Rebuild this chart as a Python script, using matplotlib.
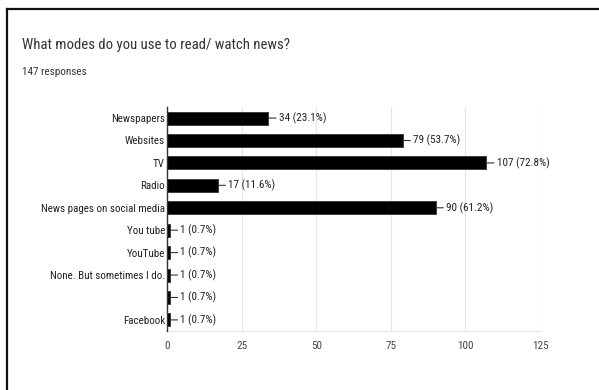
import matplotlib
matplotlib.use("Agg")
import matplotlib.pyplot as plt
from matplotlib.lines import Line2D

categories = ["Newspapers", "Websites", "TV", "Radio", "News pages on social media",
              "You tube", "YouTube", "None. But sometimes I do.", "", "Facebook"]
counts = [34, 79, 107, 17, 90, 1, 1, 1, 1, 1]
percents = [23.1, 53.7, 72.8, 11.6, 61.2, 0.7, 0.7, 0.7, 0.7, 0.7]
xticks = [0, 25, 50, 75, 100, 125]
title = "What modes do you use to read/ watch news?"
subtitle = "147 responses"

plt.rcParams["font.family"] = ["Roboto Condensed", "DejaVu Sans"]

fig = plt.figure(figsize=(5.99, 3.90), dpi=100)
ax = fig.add_axes([0.2788, 0.151, 0.9015 - 0.2788, 0.726 - 0.151])

y = list(range(len(categories)))
ax.barh(y, counts, height=0.58, color="#000000", edgecolor="#333333", linewidth=0.6, zorder=3)
ax.set_ylim(len(categories) - 0.5, -0.5)
ax.set_xlim(0, 125)
ax.set_xticks(xticks)
ax.set_xticklabels([str(t) for t in xticks], fontsize=8, color="#444444")
ax.set_yticks(y)
ax.set_yticklabels(categories, fontsize=7.9, color="#222222")
ax.tick_params(axis="both", length=0)
ax.tick_params(axis="y", pad=1.5)
ax.tick_params(axis="x", pad=7)
ax.grid(axis="x", color="#e6e6e6", linewidth=0.8, zorder=0)
for side in ["top", "right"]:
    ax.spines[side].set_visible(False)
ax.spines["bottom"].set_color("#e6e6e6")
ax.spines["left"].set_color("#333333")
ax.spines["left"].set_linewidth(1.0)
ax.spines["left"].set_zorder(4)

for yi, c, p in zip(y, counts, percents):
    ax.annotate(f"{c} ({p}%)", xy=(c, yi), xytext=(7.5, 0), textcoords="offset points",
                ha="left", va="center", fontsize=8, color="#222222",
                arrowprops=dict(arrowstyle="-", color="#333333", lw=0.8,
                                shrinkA=0, shrinkB=0))

fig.text(22 / 599, 1 - 45 / 390, title, fontsize=10.6, color="#333333", va="center", ha="left")
fig.text(22 / 599, 1 - 72 / 390, subtitle, fontsize=8, color="#333333", va="center", ha="left")

# card frame: top and left edges
fig.add_artist(Line2D([6.5 / 599, 1], [1 - 8.5 / 390] * 2, transform=fig.transFigure,
                      color="#111111", linewidth=1.6))
fig.add_artist(Line2D([6.5 / 599] * 2, [0, 1 - 8.5 / 390], transform=fig.transFigure,
                      color="#111111", linewidth=1.6))

fig.savefig("out.png", dpi=100, facecolor="white")
